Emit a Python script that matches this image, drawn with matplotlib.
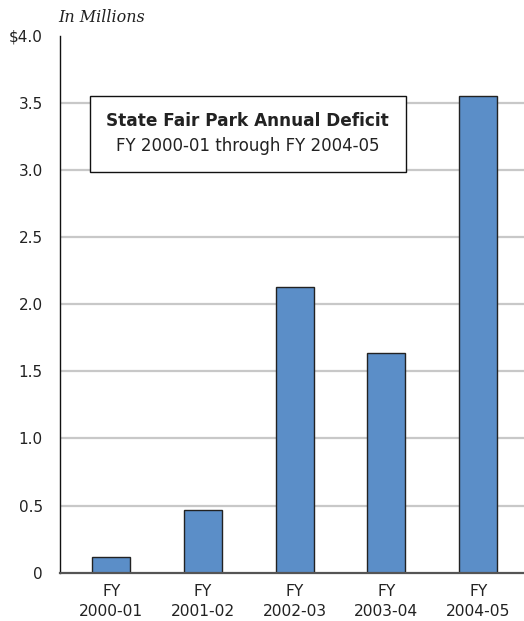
import matplotlib
matplotlib.use("Agg")
import matplotlib.pyplot as plt
from matplotlib.patches import Rectangle

categories = ["FY\n2000-01", "FY\n2001-02", "FY\n2002-03", "FY\n2003-04", "FY\n2004-05"]
deficit = [0.12, 0.47, 2.13, 1.64, 3.55]
yticks = [0, 0.5, 1.0, 1.5, 2.0, 2.5, 3.0, 3.5, 4.0]
ytick_labels = ["0", "0.5", "1.0", "1.5", "2.0", "2.5", "3.0", "3.5", "$4.0"]

plt.rcParams['font.family'] = ['DejaVu Sans']

fig = plt.figure(figsize=(5.24, 6.21), dpi=100)
ax = fig.add_axes([0.1136, 0.0778, 0.8864, 0.8647])

x = list(range(len(categories)))
for g in yticks[1:-1]:
    ax.axhline(g, color="#c8c8c8", lw=1.6, zorder=0)

ax.bar(x, deficit, width=0.415, color="#5b8ec8", edgecolor="#222222", linewidth=1.0, zorder=3)

ax.set_xlim(-0.565, 4.5)
ax.set_ylim(0, 4.0)
ax.set_yticks(yticks)
ax.set_yticklabels(ytick_labels, fontsize=11, color="#222222")
ax.set_xticks(x)
ax.set_xticklabels(categories, fontsize=11.2, color="#222222", linespacing=1.35)
ax.tick_params(axis="y", length=0, pad=12)
ax.tick_params(axis="x", length=0, pad=8.5)

for s in ["top", "right"]:
    ax.spines[s].set_visible(False)
ax.spines["left"].set_color("#111111")
ax.spines["left"].set_linewidth(1.0)
ax.spines["bottom"].set_color("#555555")
ax.spines["bottom"].set_linewidth(1.6)
ax.spines["bottom"].set_zorder(4)

# title box (axes fraction coordinates)
ax_w, ax_h = 0.8864 * 524, 0.8647 * 621
x0 = (90 - 59.5) / ax_w
x1 = (405.5 - 59.5) / ax_w
y0 = (572.7 - 172.5) / ax_h
y1 = (572.7 - 96.5) / ax_h
ax.add_patch(Rectangle((x0, y0), x1 - x0, y1 - y0, transform=ax.transAxes,
                       facecolor="white", edgecolor="#111111", lw=1.0, zorder=5))
xc = (x0 + x1) / 2
ax.text(xc, (572.7 - 121) / ax_h, "State Fair Park Annual Deficit", transform=ax.transAxes,
        ha="center", va="center", fontsize=12.2, fontweight="bold", color="#222222", zorder=6)
ax.text(xc, (572.7 - 146) / ax_h, "FY 2000-01 through FY 2004-05", transform=ax.transAxes,
        ha="center", va="center", fontsize=12.0, color="#222222", zorder=6)

fig.text(58 / 524, 1 - 17 / 621, "In Millions", ha="left", va="center", fontsize=11.5,
         style="italic", family=["DejaVu Serif"], color="#222222")

fig.savefig("out.png", dpi=100)
